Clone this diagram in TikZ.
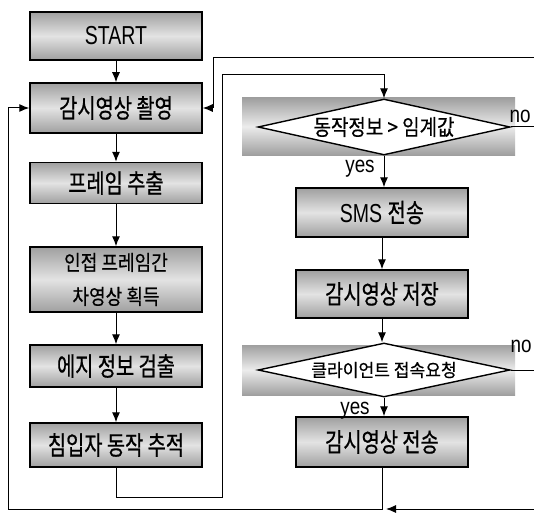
\documentclass[tikz,border=0pt]{standalone}
\usepackage{fontspec}
\setmainfont{Liberation Sans}[FakeStretch=0.82]
\newfontfamily\latn{Liberation Sans}[FakeStretch=0.75]
\newfontfamily\kr{Noto Sans CJK KR}[FakeStretch=0.86,FakeBold=0.5]
\newfontfamily\krn{Noto Sans CJK KR}[FakeStretch=0.76,FakeBold=0.6]
\newfontfamily\krw{Noto Sans CJK KR}[FakeStretch=0.95,FakeBold=0.4]
\usetikzlibrary{shapes.geometric,arrows.meta}
\tikzset{
  box/.style={draw, line width=1.5pt, minimum width=172pt, inner sep=0pt, align=center,
    top color=gray!75, bottom color=gray!75, middle color=gray!22},
  band/.style={top color=gray!75, bottom color=gray!75, middle color=gray!15},
  dec/.style={diamond, aspect=4.5, draw, line width=1.4pt, fill=white, inner sep=0pt},
  arr/.style={line width=1pt, -{Latex[length=10pt,width=8pt]}},
  big/.style={font=\krn\fontsize{26}{28}\selectfont},
  lbl/.style={font=\fontsize{23}{25}\selectfont, inner sep=0pt}
}
\begin{document}
\begin{tikzpicture}[x=1pt,y=-1pt]
\clip (0,0) rectangle (534,513);
\fill[white] (0,0) rectangle (534,513);
% left column
\node[box, minimum height=48pt, font=\latn\fontsize{26}{28}\selectfont] (start) at (116,36) {START};
\node[box, big, minimum height=50pt] (watch) at (116,108) {감시영상 촬영};
\node[box, big, minimum height=41pt] (frame) at (116,183) {프레임 추출};
\node[box, minimum height=65pt, font=\kr\fontsize{21}{34}\selectfont] (diff) at (116,279.5) {인접 프레임간\\차영상 획득};
\node[box, big, minimum height=42pt] (edge) at (116,366) {에지 정보 검출};
\node[box, big, minimum height=44pt] (track) at (116,445) {침입자 동작 추적};
% right column
\fill[band] (242,98) rectangle (515,155);
\node[dec, minimum width=252pt, minimum height=56pt, font=\kr\fontsize{22}{24}\selectfont] (d1) at (384,127) {동작정보 > 임계값};
\node[box, minimum height=49pt, font=\latn\fontsize{26}{28}\selectfont] (sms) at (382,212.5) {SMS {\krn\fontsize{26}{28}\selectfont 전송}};
\node[box, big, minimum height=48pt] (save) at (382,294) {감시영상 저장};
\fill[band] (242,345) rectangle (515,395);
\node[dec, minimum width=252pt, minimum height=54pt, font=\krw\fontsize{18}{20}\selectfont] (d2) at (384,370) {클라이언트 접속요청};
\node[box, big, minimum height=50pt] (send) at (382,442) {감시영상 전송};
% labels
\node[lbl] (y1) at (360,169) {yes};
\node[lbl] (n1) at (520,116) {no};
\node[lbl] (y2) at (355,411) {yes};
\node[lbl] (n2) at (521,346) {no};
% connectors
\draw[arr] (start) -- (watch);
\draw[arr] (watch) -- (frame);
\draw[arr] (frame) -- (diff);
\draw[arr] (diff) -- (edge);
\draw[arr] (edge) -- (track);
\draw[arr] (track.south) |- (222,497) -- (222,75) -| (d1.north);
\draw[arr] (d1.east) -- (560,127) |- (213,58) |- (watch.east);
\draw[arr] (d1.south) -- (d1.south |- sms.north);
\draw[arr] (sms) -- (save);
\draw[arr] (save.south) -- (save.south |- d2.north);
\draw[arr] (d2.south) -- (d2.south |- send.north);
\draw[arr] (send.south) |- (8,509) |- (watch.west);
\draw[arr] (d2.east) -- (560,370) |- (386,509);
\end{tikzpicture}
\end{document}
